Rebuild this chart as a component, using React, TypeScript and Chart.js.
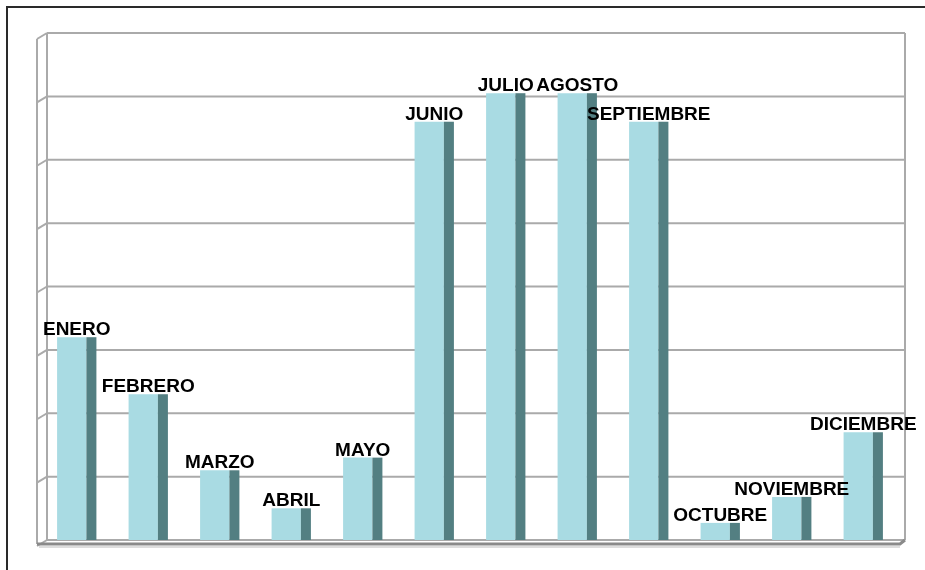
import React, { useEffect, useRef } from "react";
import { Chart, registerables } from "chart.js";

Chart.register(...registerables);

const months = [
  "ENERO", "FEBRERO", "MARZO", "ABRIL", "MAYO", "JUNIO",
  "JULIO", "AGOSTO", "SEPTIEMBRE", "OCTUBRE", "NOVIEMBRE", "DICIEMBRE",
];
const values = [32, 23, 11, 5, 13, 66, 70.5, 70.5, 66, 2.7, 6.8, 17];
const yTicks = [0, 10, 20, 30, 40, 50, 60, 70, 80];

const FACE = "#a9dbe3";
const SIDE = "#537f82";
const GRID = "#aaaaaa";

const decorPlugin = {
  id: "decor3d",
  beforeDatasetsDraw(chart: any) {
    const ctx = chart.ctx;
    const y = chart.scales.y;
    const backL = 47;
    const frontL = 37;
    const backR = 905;
    ctx.save();
    // frame
    ctx.strokeStyle = "#2a2a2a";
    ctx.lineWidth = 2;
    ctx.beginPath();
    ctx.moveTo(7, 570);
    ctx.lineTo(7, 7);
    ctx.lineTo(925, 7);
    ctx.stroke();
    // grid lines on back wall
    ctx.strokeStyle = GRID;
    ctx.lineWidth = 2;
    const top = y.getPixelForValue(yTicks[yTicks.length - 1]);
    const bot = y.getPixelForValue(0);
    yTicks.forEach((v) => {
      const py = y.getPixelForValue(v);
      ctx.beginPath();
      ctx.moveTo(backL, py);
      ctx.lineTo(backR, py);
      ctx.stroke();
      ctx.beginPath();
      ctx.moveTo(frontL, py + 6);
      ctx.lineTo(backL, py);
      ctx.stroke();
    });
    // walls
    ctx.beginPath();
    ctx.moveTo(backL, top);
    ctx.lineTo(backL, bot);
    ctx.stroke();
    ctx.beginPath();
    ctx.moveTo(frontL, top + 6);
    ctx.lineTo(frontL, bot + 4);
    ctx.stroke();
    ctx.beginPath();
    ctx.moveTo(backR, top);
    ctx.lineTo(backR, bot);
    ctx.stroke();
    // floor front edge
    ctx.strokeStyle = "#8a8a8a";
    ctx.lineWidth = 3;
    ctx.beginPath();
    ctx.moveTo(frontL, bot + 4);
    ctx.lineTo(backR - 5, bot + 4);
    ctx.lineTo(backR, bot);
    ctx.stroke();
    ctx.strokeStyle = "#dddddd";
    ctx.lineWidth = 2;
    ctx.beginPath();
    ctx.moveTo(frontL + 2, bot + 7);
    ctx.lineTo(backR - 5, bot + 7);
    ctx.stroke();
    ctx.restore();
  },
  afterDatasetsDraw(chart: any) {
    const ctx = chart.ctx;
    const meta = chart.getDatasetMeta(0);
    ctx.save();
    meta.data.forEach((bar: any, i: number) => {
      const { x, y, base, width } = bar.getProps(["x", "y", "base", "width"], true);
      const right = x + width / 2;
      ctx.fillStyle = SIDE;
      ctx.fillRect(right, y, 10, base - y);
      ctx.fillStyle = "#000";
      ctx.font = "bold 19px 'Liberation Sans', Arial, sans-serif";
      ctx.textAlign = "center";
      ctx.textBaseline = "alphabetic";
      ctx.fillText(months[i], x + 5, y - 2);
    });
    ctx.restore();
  },
};

export default function App() {
  const ref = useRef<HTMLCanvasElement>(null);
  useEffect(() => {
    if (!ref.current) return;
    const chart = new Chart(ref.current, {
      type: "bar",
      data: {
        labels: months,
        datasets: [
          {
            data: values,
            backgroundColor: FACE,
            borderWidth: 0,
            barPercentage: 0.41,
            categoryPercentage: 1,
          },
        ],
      },
      options: {
        responsive: false,
        animation: false,
        devicePixelRatio: 1,
        layout: { padding: { left: 36, right: 31, top: 33, bottom: 30 } },
        plugins: { legend: { display: false }, tooltip: { enabled: false } },
        scales: {
          x: { display: false },
          y: { display: false, min: 0, max: 80, ticks: { stepSize: 10 } },
        },
      },
      plugins: [decorPlugin],
    });
    return () => chart.destroy();
  }, []);
  return (
    <div style={{ position: "fixed", left: 0, top: 0, width: 925, height: 570, background: "#fff" }}>
      <canvas ref={ref} width={925} height={570} />
    </div>
  );
}
